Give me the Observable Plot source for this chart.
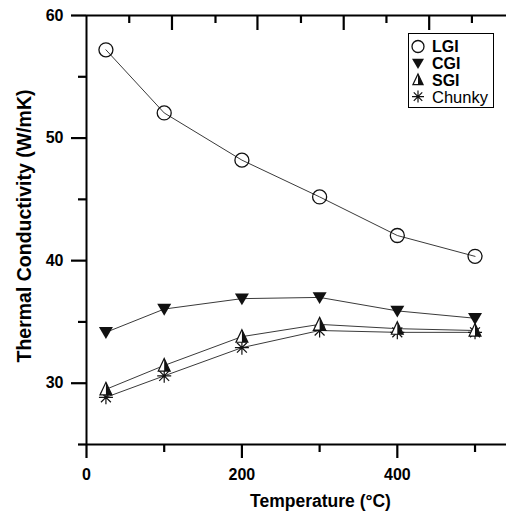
<!DOCTYPE html>
<html><head><meta charset="utf-8">
<script src="https://cdn.jsdelivr.net/npm/d3@7"></script>
<script src="https://cdn.jsdelivr.net/npm/@observablehq/plot@0.6"></script>
<style>
html,body{margin:0;padding:0;background:#fff;}
#wrap{position:relative;width:506px;height:516px;font-family:"Liberation Sans",Arial,sans-serif;}
#legend{position:absolute;left:408px;top:33px;width:86px;height:75px;border:1px solid #000;background:#fff;box-sizing:border-box;}
#legend svg{position:absolute;left:0;top:0;}
</style></head><body><div id="wrap"></div>
<script>
const temperatures = [25, 100, 200, 300, 400, 500];
const seriesNames = ["LGI", "CGI", "SGI", "Chunky"];
const lgi = [57.2, 52.05, 48.2, 45.2, 42.05, 40.35];
const cgi = [34.15, 36.05, 36.9, 37.0, 35.9, 35.3];
const sgi = [29.5, 31.45, 33.8, 34.8, 34.45, 34.3];
const chunky = [28.85, 30.6, 32.9, 34.3, 34.15, 34.15];
const yMajorTicks = [30, 40, 50, 60];
const yMinorTicks = [25, 35, 45, 55];
const xMajorTicks = [0, 200, 400];
const xMinorTicks = [100, 300, 500];
const topMajorTicks = [110, 220, 331, 441];
const topMinorTicks = [55, 166, 276, 386, 496];
const xLabel = "Temperature (\u00B0C)";
const yLabel = "Thermal Conductivity (W/mK)";

// layout
const W = 506, H = 516, mL = 86, mR = 0, mT = 15, mB = 72;
const frameW = W - mL - mR, frameH = H - mT - mB;
const majorLen = 15, bottomMajorLen = 14, minorLen = 8;
const xDomain = [0, 540.5], yDomain = [25, 60];
const xPerPx = (xDomain[1] - xDomain[0]) / frameW;
const yPerPx = (yDomain[1] - yDomain[0]) / frameH;

// custom marker shapes
const rad = size => Math.sqrt(size / Math.PI);
const triDown = {draw(c, size) { const r = rad(size); c.moveTo(-r, -0.75 * r); c.lineTo(r, -0.75 * r); c.lineTo(0, 0.95 * r); c.closePath(); }};
const triUp = {draw(c, size) { const r = rad(size); c.moveTo(0, -r); c.lineTo(0.85 * r, 0.8 * r); c.lineTo(-0.85 * r, 0.8 * r); c.closePath(); }};
const triUpHalf = {draw(c, size) { const r = rad(size); c.moveTo(0, -r); c.lineTo(0.85 * r, 0.8 * r); c.lineTo(0, 0.8 * r); c.closePath(); }};
const star8 = {draw(c, size) { const r = rad(size); for (let k = 0; k < 4; k++) { const a = k * Math.PI / 4; c.moveTo(Math.cos(a) * r, Math.sin(a) * r); c.lineTo(-Math.cos(a) * r, -Math.sin(a) * r); } }};

const rows = [];
[lgi, cgi, sgi, chunky].forEach((vals, k) => vals.forEach((v, i) => rows.push({t: temperatures[i], v, s: seriesNames[k]})));
const of = name => rows.filter(d => d.s === name);
const ink = "#111";
const id = d => d;
const tickStyle = {stroke: "#000", strokeWidth: 2.2};

const chart = Plot.plot({
  width: W, height: H,
  marginLeft: mL, marginRight: mR, marginTop: mT, marginBottom: mB,
  x: {domain: xDomain, axis: null},
  y: {domain: yDomain, axis: null},
  style: {fontFamily: '"Liberation Sans", Arial, sans-serif', background: "white", color: "black", overflow: "visible"},
  marks: [
    Plot.line(rows, {x: "t", y: "v", z: "s", stroke: "#3a3a3a", strokeWidth: 1}),
    Plot.dot(of("LGI"), {x: "t", y: "v", r: 7, symbol: "circle", stroke: ink, fill: "none", strokeWidth: 1.3}),
    Plot.dot(of("CGI"), {x: "t", y: "v", r: 7, symbol: triDown, fill: ink, stroke: "none"}),
    Plot.dot(of("Chunky"), {x: "t", y: "v", r: 7, symbol: star8, stroke: ink, fill: "none", strokeWidth: 1.2}),
    Plot.dot(of("SGI"), {x: "t", y: "v", r: 7, symbol: triUp, fill: "white", stroke: ink, strokeWidth: 1.2}),
    Plot.dot(of("SGI"), {x: "t", y: "v", r: 7, symbol: triUpHalf, fill: ink, stroke: "none"}),
    // frame lines
    Plot.ruleY(yDomain, {stroke: "#000", strokeWidth: 2}),
    Plot.ruleX([0], {stroke: "#000", strokeWidth: 2}),
    // ticks: outward on left and bottom, inward on top
    Plot.ruleY(yMajorTicks, {y: id, x1: xDomain[0], x2: xDomain[0] - majorLen * xPerPx, ...tickStyle}),
    Plot.ruleY(yMinorTicks, {y: id, x1: xDomain[0], x2: xDomain[0] - minorLen * xPerPx, ...tickStyle}),
    Plot.ruleX(xMajorTicks, {x: id, y1: yDomain[0], y2: yDomain[0] - bottomMajorLen * yPerPx, ...tickStyle}),
    Plot.ruleX(xMinorTicks, {x: id, y1: yDomain[0], y2: yDomain[0] - minorLen * yPerPx, ...tickStyle}),
    Plot.ruleX(topMajorTicks, {x: id, y1: yDomain[1], y2: yDomain[1] - majorLen * yPerPx, ...tickStyle}),
    Plot.ruleX(topMinorTicks, {x: id, y1: yDomain[1], y2: yDomain[1] - minorLen * yPerPx, ...tickStyle}),
    // tick labels
    Plot.text(yMajorTicks, {y: id, frameAnchor: "left", text: d => String(d), textAnchor: "end", dx: -(majorLen + 8), fontSize: 16, fontWeight: "bold", fill: "#000"}),
    Plot.text(xMajorTicks, {x: id, frameAnchor: "bottom", text: d => String(d), textAnchor: "middle", lineAnchor: "top", dy: 24, fontSize: 16, fontWeight: "bold", fill: "#000"}),
    // axis titles
    Plot.text([xLabel], {frameAnchor: "bottom", textAnchor: "middle", lineAnchor: "middle", dx: 24, dy: 57, fontSize: 17.5, fontWeight: "bold", fill: "#000"}),
    Plot.text([yLabel], {frameAnchor: "left", textAnchor: "middle", lineAnchor: "middle", rotate: -90, dx: -62, dy: -4, fontSize: 19.5, fontWeight: "bold", fill: "#000"})
  ]
});
const wrap = document.getElementById("wrap");
wrap.appendChild(chart);

// legend
const legend = document.createElement("div");
legend.id = "legend";
wrap.appendChild(legend);
const lsvg = d3.select(legend).append("svg").attr("width", 84).attr("height", 73)
  .style("font-family", '"Liberation Sans", Arial, sans-serif');
const legendItems = [
  {name: "LGI", layers: [{type: d3.symbolCircle, fill: "none", stroke: ink, sw: 1.3}], bold: true},
  {name: "CGI", layers: [{type: triDown, fill: ink, stroke: "none"}], bold: true},
  {name: "SGI", layers: [{type: triUp, fill: "white", stroke: ink, sw: 1.2}, {type: triUpHalf, fill: ink, stroke: "none"}], bold: true},
  {name: "Chunky", layers: [{type: star8, fill: "none", stroke: ink, sw: 1.2}], bold: false}
];
legendItems.forEach((it, i) => {
  const cy = 12.5 + i * 16.7;
  const g = lsvg.append("g").attr("transform", `translate(9,${cy})`);
  it.layers.forEach(l => {
    g.append("path").attr("d", d3.symbol(l.type, Math.PI * 36)())
      .attr("fill", l.fill).attr("stroke", l.stroke).attr("stroke-width", l.sw || 0);
  });
  lsvg.append("text").attr("x", 23).attr("y", cy).attr("dy", "0.36em")
    .attr("font-size", it.bold ? 16 : 16.5).attr("font-weight", it.bold ? "bold" : "normal")
    .attr("fill", "#000").text(it.name);
});
</script></body></html>
